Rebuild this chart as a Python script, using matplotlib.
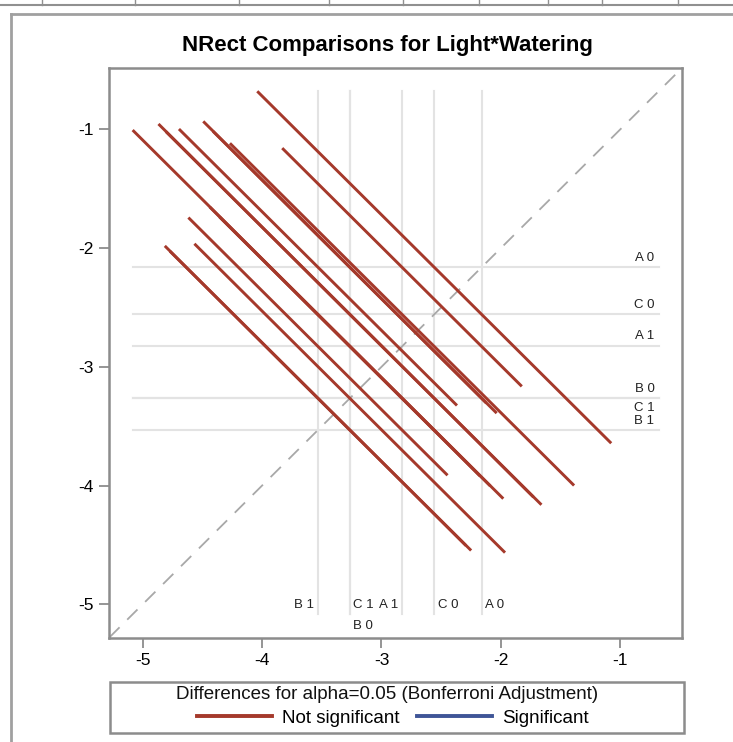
import matplotlib
matplotlib.use('Agg')
import matplotlib.pyplot as plt
from matplotlib.lines import Line2D
from matplotlib.patches import Rectangle

# LS-means of Light*Watering levels
levels = ['A 0', 'C 0', 'A 1', 'B 0', 'C 1', 'B 1']
lsmeans = [-2.161, -2.558, -2.828, -3.264, -3.266, -3.532]

# pairwise comparisons: (level i, level j, CI half-width of the difference)
pair_i = ['A 0', 'A 0', 'A 0', 'A 0', 'A 0', 'C 0', 'C 0', 'C 0', 'C 0',
          'A 1', 'A 1', 'A 1', 'B 0', 'B 0', 'C 1']
pair_j = ['C 0', 'A 1', 'B 0', 'C 1', 'B 1', 'A 1', 'B 0', 'C 1', 'B 1',
          'B 0', 'C 1', 'B 1', 'C 1', 'B 1', 'B 1']
halfwidth = [2.965, 2.007, 2.458, 2.29, 2.329, 2.883, 3.208, 3.08, 3.105,
             2.35, 2.18, 2.171, 2.602, 2.566, 2.48]
significant = [False] * 15

title = 'NRect Comparisons for Light*Watering'
legend_title = 'Differences for alpha=0.05 (Bonferroni Adjustment)'
ticks = [-5, -4, -3, -2, -1]

# label placement for reference lines (style only)
hlab_dy = {'A 0': 6.9, 'C 0': 6.7, 'A 1': 7.5, 'B 0': 6.5, 'C 1': -6.7, 'B 1': 6.3}
vlab_ha = {'B 1': 'right', 'C 1': 'left', 'A 1': 'right', 'B 0': 'left',
           'C 0': 'left', 'A 0': 'left'}
vlab_row = {'B 1': 0, 'C 1': 0, 'A 1': 0, 'B 0': 1, 'C 0': 0, 'A 0': 0}

red = '#A5392B'
blue = '#3F5597'
grid = '#E3E3E3'
frame = '#8C8C8C'

plt.rcParams['font.family'] = ['Liberation Sans', 'DejaVu Sans']

W, H = 733, 742
fig = plt.figure(figsize=(W / 100, H / 100), dpi=100)
ax = fig.add_axes([109.3 / W, 1 - 637.5 / H, (681.7 - 109.3) / W, (637.5 - 68.3) / H])
lo_ax, hi_ax = -5.28, -0.485
ax.set_xlim(lo_ax, hi_ax)
ax.set_ylim(lo_ax, hi_ax)

mean = dict(zip(levels, lsmeans))
segs = []
for a, b, w, sig in zip(pair_i, pair_j, halfwidth, significant):
    cx, cy = min(mean[a], mean[b]), max(mean[a], mean[b])
    h = w / 2
    segs.append(((cx - h, cx + h), (cy + h, cy - h), sig))

allv = [v for s in segs for v in s[0] + s[1]]
lo, hi = min(allv), max(allv)

# reference lines
for lev, m in zip(levels, lsmeans):
    ax.plot([lo, hi], [m, m], color=grid, lw=1.5, zorder=1)
    ax.plot([m, m], [lo, hi], color=grid, lw=1.5, zorder=1)
    ax.annotate(lev, (hi, m), xytext=(-3, hlab_dy[lev]), textcoords='offset points',
                ha='right', va='center', fontsize=9.5, color='#222222')
    dx = -3 if vlab_ha[lev] == 'right' else 2.5
    ax.annotate(lev, (m, lo), xytext=(dx, 6.5 - 15 * vlab_row[lev]), textcoords='offset points',
                ha=vlab_ha[lev], va='center', fontsize=9.5, color='#222222')

ax.plot([lo_ax, hi_ax], [lo_ax, hi_ax], color='#A8A8A8', lw=1.3,
        dashes=(8, 6), zorder=2)

for xs, ys, sig in segs:
    ax.plot(xs, ys, color=blue if sig else red, lw=2.1, solid_capstyle='butt', zorder=3)

ax.set_xticks(ticks)
ax.set_yticks(ticks)
ax.set_xticklabels([str(t) for t in ticks])
ax.set_yticklabels([str(t) for t in ticks])
ax.tick_params(length=7, width=1.3, color=frame, labelsize=12.5, pad=4)
for sp in ax.spines.values():
    sp.set_color(frame)
    sp.set_linewidth(1.8)

fig.text(387.5 / W, 1 - 45 / H, title, ha='center', va='center', fontsize=16,
         fontweight='bold')

# legend box
fig.add_artist(Rectangle((110 / W, 1 - 733 / H), 574 / W, 51 / H, transform=fig.transFigure,
                         fill=False, edgecolor=frame, lw=1.8))
fig.text(387 / W, 1 - 694.5 / H, legend_title, ha='center', va='center', fontsize=13.5,
         color='#111111')
handles = [Line2D([], [], color=red, lw=2.8), Line2D([], [], color=blue, lw=2.8)]
fig.legend(handles, ['Not significant', 'Significant'], ncol=2,
           loc='center', bbox_to_anchor=(393 / W, 1 - 718 / H), frameon=False,
           fontsize=13.5, handlelength=4, handletextpad=0.55,
           columnspacing=0.9, borderpad=0, borderaxespad=0)

# page frame around the graph
fig.add_artist(Line2D([11 / W, 11 / W], [0, 1 - 14 / H], color='#A0A0A0', lw=2,
                      transform=fig.transFigure))
fig.add_artist(Line2D([11 / W, 1], [1 - 14 / H, 1 - 14 / H], color='#A0A0A0', lw=2,
                      transform=fig.transFigure))
fig.add_artist(Line2D([0, 1], [1 - 5 / H, 1 - 5 / H], color='#909090', lw=1.5,
                      transform=fig.transFigure))
for px in [42, 135, 239, 329, 403, 479, 548, 602, 678]:
    fig.add_artist(Line2D([px / W, px / W], [1 - 5 / H, 1], color='#909090', lw=1,
                          transform=fig.transFigure))

fig.savefig('out.png', dpi=100)
